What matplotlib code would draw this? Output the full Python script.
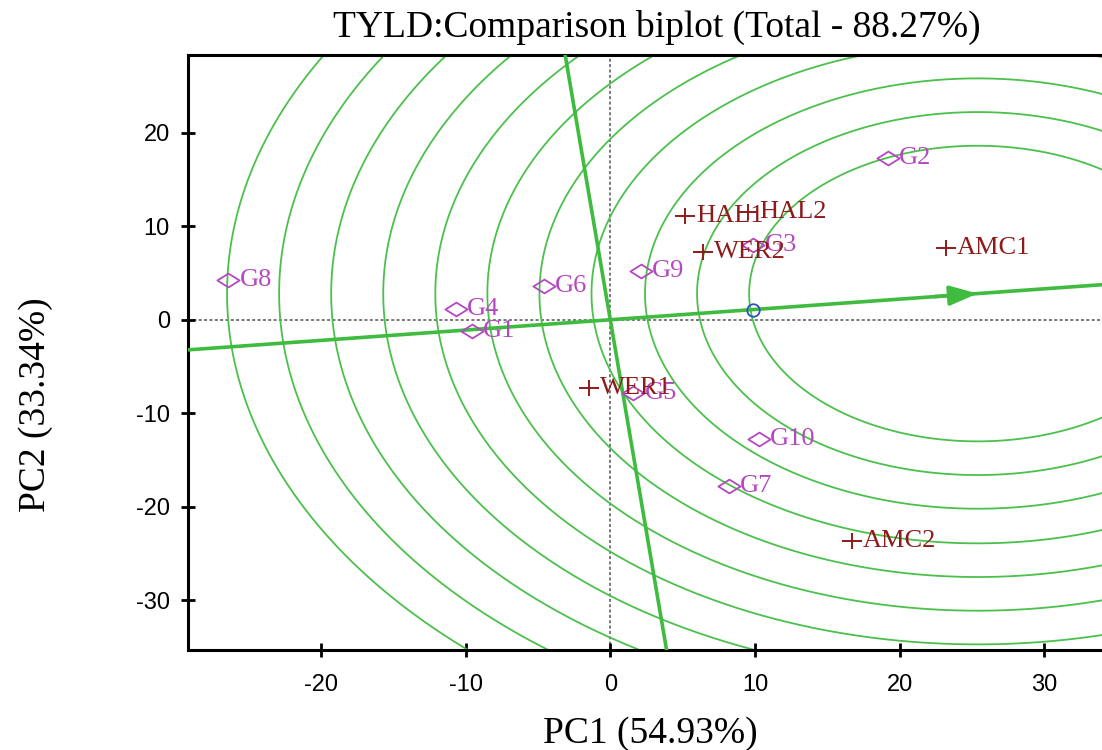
import numpy as np
import matplotlib
matplotlib.use("Agg")
import matplotlib.pyplot as plt
from matplotlib.path import Path

plt.rcParams["axes.unicode_minus"] = False

# ---- data ----
gen_names = ["G1", "G2", "G3", "G4", "G5", "G6", "G7", "G8", "G9", "G10"]
gen_pc1 = [-9.55, 19.2, 9.9, -10.7, 1.6, -4.6, 8.2, -26.4, 2.1, 10.3]
gen_pc2 = [-1.2, 17.3, 8.0, 1.2, -7.8, 3.6, -17.8, 4.3, 5.2, -12.7]

env_names = ["HAL1", "HAL2", "WER2", "AMC1", "WER1", "AMC2"]
env_pc1 = [5.2, 9.5, 6.4, 23.2, -1.45, 16.7]
env_pc2 = [11.1, 11.5, 7.2, 7.7, -7.3, -23.7]

ideal_point = [25.4, 2.8]          # arrow tip / centre of circles
mean_env = [9.9, 1.0]              # small blue circle
circle_radii = [15.8, 19.4, 23.0, 26.7, 30.3, 33.9, 37.5, 41.1, 44.7, 48.3, 51.9]

xticks = [-20, -10, 0, 10, 20, 30]
yticks = [-30, -20, -10, 0, 10, 20]
xlim = (-29.2, 34.0)
ylim = (-35.3, 28.3)

title = "TYLD:Comparison biplot (Total - 88.27%)"
xlabel = "PC1 (54.93%)"
ylabel = "PC2 (33.34%)"

# ---- styling ----
serif = ["Liberation Serif", "DejaVu Serif"]
sans = ["Liberation Sans", "DejaVu Sans"]
green_thick = "#3fbb3f"
green_thin = "#4cc04c"
gen_color = "#b548c0"
env_color = "#8e1b1b"

fig = plt.figure(figsize=(11.02, 7.5), dpi=100)
ax = fig.add_axes([188/1102, 1-650/750, 1-188/1102, (650-55)/750])
ax.set_xlim(*xlim)
ax.set_ylim(*ylim)

# concentric circles
t = np.linspace(0, 2*np.pi, 721)
for r in circle_radii:
    ax.plot(ideal_point[0] + r*np.cos(t), ideal_point[1] + r*np.sin(t),
            color=green_thin, lw=1.3, zorder=2)

# dotted reference axes
ax.axhline(0, color="#555555", lw=1.1, ls=(0, (2, 1.5)), zorder=1)
ax.axvline(0, color="#555555", lw=1.1, ls=(0, (2, 1.5)), zorder=1)

# AEC abscissa through origin and ideal point
slope = ideal_point[1] / ideal_point[0]
xs = np.array([xlim[0] - 5, xlim[1] + 5])
ax.plot(xs, slope*xs, color=green_thick, lw=2.6, zorder=3)
# perpendicular through origin
ys = np.array([ylim[0] - 5, ylim[1] + 5])
ax.plot(-slope*ys, ys, color=green_thick, lw=2.6, zorder=3)
# arrowhead
ax.annotate("", xy=ideal_point, xytext=(ideal_point[0]-3, ideal_point[1]-3*slope),
            arrowprops=dict(arrowstyle="-|>,head_length=1.7,head_width=0.6",
                            color=green_thick, lw=2.6, shrinkA=0, shrinkB=0),
            zorder=4)

# mean environment marker
ax.plot([mean_env[0]], [mean_env[1]], marker="o", ms=9, mfc="none",
        mec="#3050c0", mew=1.3, ls="none", zorder=5)

# custom markers (wide diamond, wide plus)
diamond = Path([(-1, 0), (0, 0.62), (1, 0), (0, -0.62), (-1, 0)],
               [Path.MOVETO, Path.LINETO, Path.LINETO, Path.LINETO, Path.CLOSEPOLY])
plus = Path([(-1, 0), (1, 0), (0, -0.75), (0, 0.75)],
            [Path.MOVETO, Path.LINETO, Path.MOVETO, Path.LINETO])

ax.plot(gen_pc1, gen_pc2, ls="none", marker=diamond, ms=16, mfc="none",
        mec=gen_color, mew=1.3, zorder=6)
ax.plot(env_pc1, env_pc2, ls="none", marker=plus, ms=15, color=env_color,
        mew=1.4, zorder=6)

for n, x, y in zip(gen_names, gen_pc1, gen_pc2):
    ax.annotate(n, (x, y), xytext=(8, 0), textcoords="offset points",
                ha="left", va="center", fontsize=19, color=gen_color,
                family=serif, zorder=7)
for n, x, y in zip(env_names, env_pc1, env_pc2):
    ax.annotate(n, (x, y), xytext=(8, 0), textcoords="offset points",
                ha="left", va="center", fontsize=19, color=env_color,
                family=serif, zorder=7)

# axes styling
ax.set_xticks(xticks)
ax.set_yticks(yticks)
ax.tick_params(direction="inout", length=10, width=2, labelsize=17, pad=8)
for lab in ax.get_xticklabels() + ax.get_yticklabels():
    lab.set_family(sans)
ax.tick_params(axis="x", pad=12)
for s in ["left", "bottom", "top"]:
    ax.spines[s].set_linewidth(2.2)
ax.spines["right"].set_visible(False)

fig.text(0.596, 0.963, title, ha="center", va="center", fontsize=27, family=serif)
fig.text(0.59, 0.022, xlabel, ha="center", va="center", fontsize=27, family=serif)
fig.text(0.032, 0.46, ylabel, ha="center", va="center", fontsize=27, family=serif,
         rotation=90)

fig.savefig("out.png", dpi=100)
